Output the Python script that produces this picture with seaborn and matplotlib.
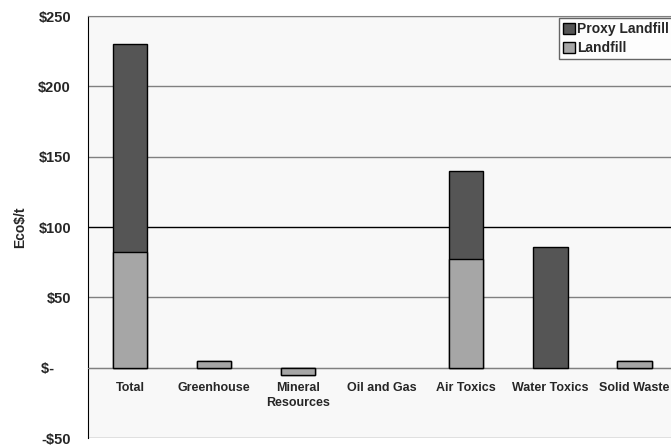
import matplotlib
matplotlib.use("Agg")
import matplotlib.pyplot as plt
from matplotlib.patches import Patch
import seaborn as sns
import pandas as pd
import numpy as np

# values (Eco$/t)
categories = ["Total", "Greenhouse", "Mineral\nResources", "Oil and Gas",
              "Air Toxics", "Water Toxics", "Solid Waste"]
landfill = [82, 5, -5, 0, 77.5, 0, 5]
proxy_landfill = [148, 0, 0, 0, 62.5, 86, 0]

yticks = [-50, 0, 50, 100, 150, 200, 250]
ytick_labels = ["-$50", "$-    ", "$50", "$100", "$150", "$200", "$250"]

DARK = "#555555"
LIGHT = "#a6a6a6"

sns.set_style("white")
plt.rcParams["font.family"] = ["Liberation Sans", "DejaVu Sans"]
plt.rcParams["text.parse_math"] = False

df = pd.DataFrame({
    "category": categories,
    "landfill": landfill,
    "total": np.array(landfill) + np.array(proxy_landfill),
})

fig = plt.figure(figsize=(6.71, 4.45), dpi=100)
ax = fig.add_axes([0.131, 0.0157, 0.877, 0.9483])
ax.set_facecolor("#f8f8f8")

# stacked look: full height in dark first, landfill part over it
sns.barplot(data=df, x="category", y="total", color=DARK, width=0.41,
            edgecolor="black", linewidth=1, saturation=1, ax=ax, zorder=3)
sns.barplot(data=df, x="category", y="landfill", color=LIGHT, width=0.41,
            edgecolor="black", linewidth=1, saturation=1, ax=ax, zorder=4)
# hide outlines of zero-height bars
for p in ax.patches:
    if abs(p.get_height()) < 1e-9:
        p.set_visible(False)

# move the x axis to zero first (this resets tick properties)
ax.spines["bottom"].set_position(("data", 0))
ax.spines["bottom"].set_color("#808080")
ax.spines["left"].set_color("black")
ax.spines["top"].set_color("#808080")
ax.spines["right"].set_visible(False)

ax.set_ylim(-50, 250)
ax.set_xlim(-0.5, len(categories) - 0.5)
ax.set_yticks(yticks)
ax.set_yticklabels(ytick_labels, fontsize=10.5, fontweight="bold")
ax.set_xticks(range(len(categories)))
ax.set_xticklabels(categories, fontsize=9, fontweight="bold", linespacing=1.35)
ax.set_xticks(np.arange(0.5, len(categories) - 0.5, 1), minor=True)
ax.tick_params(axis="x", which="major", length=0, pad=10.5)
ax.tick_params(axis="x", which="minor", length=3, width=1, color="black", direction="out")
ax.tick_params(axis="y", length=3.6, width=1, color="black", direction="out", pad=8.6)

for y in yticks:
    ax.axhline(y, color="black" if y == 100 else "#808080", lw=1, zorder=1)

ax.set_xlabel("")
ax.set_ylabel("Eco$/t", fontsize=10, fontweight="bold", labelpad=8)

handles = [Patch(facecolor=DARK, edgecolor="black", label="Proxy Landfill"),
           Patch(facecolor=LIGHT, edgecolor="black", label="Landfill")]
leg = ax.legend(handles=handles, loc="upper right", bbox_to_anchor=(0.995, 0.995),
                prop={"weight": "bold", "size": 10}, frameon=True, fancybox=False,
                handlelength=0.8, handleheight=0.8, handletextpad=0.2,
                borderpad=0.3, labelspacing=0.35, borderaxespad=0)
leg.get_frame().set_edgecolor("#404040")
leg.get_frame().set_facecolor("white")
leg.get_frame().set_linewidth(1)

fig.savefig("out.png", dpi=100)
